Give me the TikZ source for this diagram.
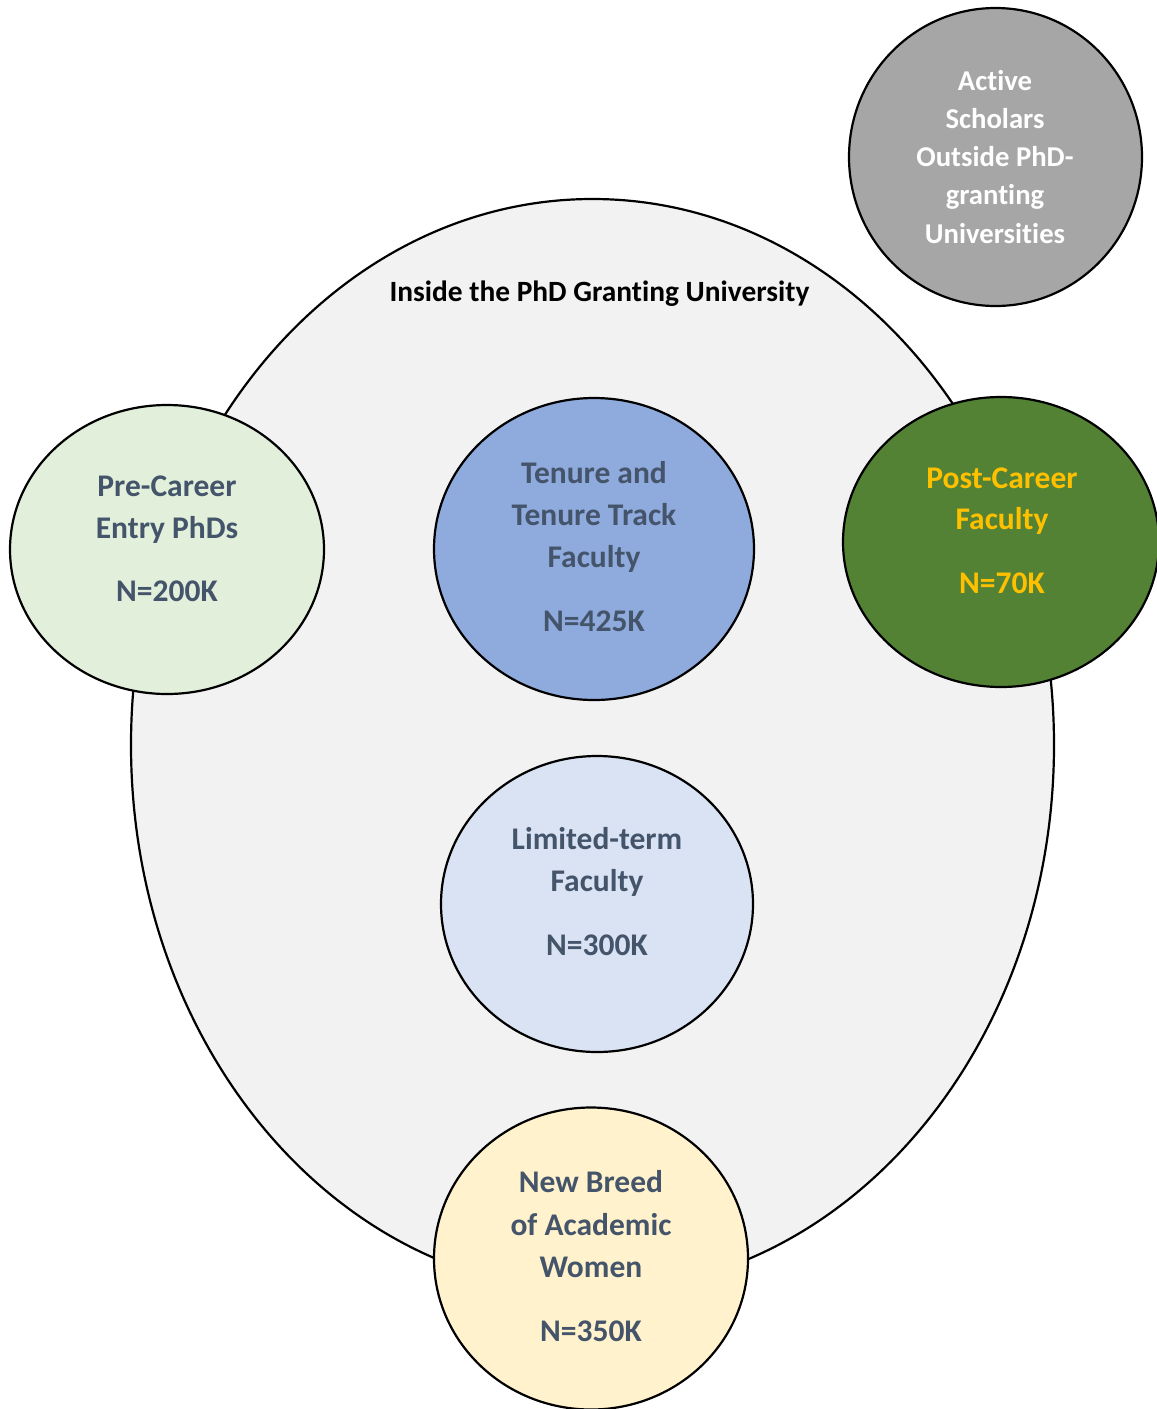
\documentclass[tikz,border=0pt]{standalone}
\usepackage{fontspec}
\setmainfont{Carlito}[Ligatures={NoCommon}]
\usetikzlibrary{shapes.geometric}
\definecolor{txt}{HTML}{44546A}
\definecolor{bigfill}{HTML}{F2F2F2}
\definecolor{grayfill}{HTML}{A6A6A6}
\definecolor{prefill}{HTML}{E2EFDA}
\definecolor{tenfill}{HTML}{8FAADC}
\definecolor{postfill}{HTML}{548235}
\definecolor{posttxt}{HTML}{FFC000}
\definecolor{limfill}{HTML}{DAE3F3}
\definecolor{newfill}{HTML}{FFF2CC}
\tikzset{
  blob/.style={ellipse, draw=black, line width=2.2pt, inner sep=0pt},
  lbl/.style={anchor=base, inner sep=0pt, text=txt, font=\bfseries\fontsize{31.5}{38}\selectfont},
  glbl/.style={anchor=base, inner sep=0pt, text=white, font=\bfseries\fontsize{28.7}{34}\selectfont},
}
\begin{document}
\begin{tikzpicture}[x=1pt,y=-1pt]
\useasboundingbox (0,0) rectangle (1157,1409);
\begin{scope}
\clip (0,0) rectangle (1157,1409);
% big ellipse
\node[blob, fill=bigfill, minimum width=923pt, minimum height=1092pt] (uni) at (592.5,745) {};
\node[anchor=base, inner sep=0pt, font=\bfseries\fontsize{29.4}{34}\selectfont] (title) at (599.5,301.5) {Inside the PhD Granting University};
% outside circle
\node[blob, fill=grayfill, minimum width=293pt, minimum height=298pt] (out) at (995.5,157) {};
\node[glbl] (o1) at (995,90.7) {Active};
\node[glbl] (o2) at (995,128.5) {Scholars};
\node[glbl] (o3) at (995,166.7) {Outside PhD-};
\node[glbl] (o4) at (995,204.5) {granting};
\node[glbl] (o5) at (995,243.3) {Universities};
% pre-career
\node[blob, fill=prefill, minimum width=314pt, minimum height=289pt] (pre) at (167,549.5) {};
\node[lbl] (p1) at (167,496) {Pre-Career};
\node[lbl] (p2) at (167,538) {Entry PhDs};
\node[lbl] (p3) at (167,601) {N=200K};
% tenure
\node[blob, fill=tenfill, minimum width=320pt, minimum height=302pt] (ten) at (594,549) {};
\node[lbl] (t1) at (594,483.5) {Tenure and};
\node[lbl] (t2) at (594,525.5) {Tenure Track};
\node[lbl] (t3) at (594,567.5) {Faculty};
\node[lbl] (t4) at (594,631) {N=425K};
% post-career
\node[blob, fill=postfill, minimum width=316pt, minimum height=290pt] (post) at (1001,542) {};
\node[lbl, text=posttxt] (q1) at (1002,488.3) {Post-Career};
\node[lbl, text=posttxt] (q2) at (1002,529.5) {Faculty};
\node[lbl, text=posttxt] (q3) at (1002,593) {N=70K};
% limited-term
\node[blob, fill=limfill, minimum width=312pt, minimum height=296pt] (lim) at (597,904) {};
\node[lbl] (l1) at (597,849.5) {Limited-term};
\node[lbl] (l2) at (597,891.5) {Faculty};
\node[lbl] (l3) at (597,955.5) {N=300K};
% new breed
\node[blob, fill=newfill, minimum width=314pt, minimum height=302pt] (nb) at (591,1258.5) {};
\node[lbl] (n1) at (591,1192.7) {New Breed};
\node[lbl] (n2) at (591,1235.7) {of Academic};
\node[lbl] (n3) at (591,1277.7) {Women};
\node[lbl] (n4) at (591,1341.7) {N=350K};
\end{scope}
\end{tikzpicture}
\end{document}
